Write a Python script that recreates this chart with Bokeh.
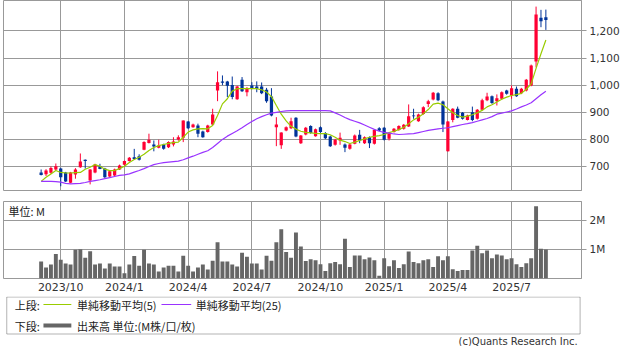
from bokeh.plotting import figure
from bokeh.layouts import column
from bokeh.models import (Range1d, FixedTicker, Grid, Label, ColumnDataSource,
                          NumeralTickFormatter, BoxAnnotation)
from bokeh.core.properties import field
from bokeh.embed import file_html
from bokeh.resources import INLINE

# ---- data (weekly, 2023/9 first week .. 2025/8 last week) ----
opens = [678, 671, 677, 689, 693, 678, 640, 670, 697, 725,
         648, 678, 701, 693, 663, 667, 689, 706, 720, 734,
         738, 762, 787, 781, 769, 781, 771, 781, 800, 806,
         866, 845, 851, 829, 827, 855, 980, 1014, 1014, 1001,
         948, 1020, 974, 999, 995, 995, 983, 958, 845, 778,
         833, 841, 880, 786, 818, 849, 812, 845, 824, 811,
         780, 796, 781, 765, 784, 817, 786, 808, 784, 841,
         843, 802, 827, 835, 839, 848, 888, 867, 894, 931,
         947, 970, 940, 756, 872, 913, 898, 872, 900, 876,
         909, 944, 959, 941, 950, 980, 962, 987, 970, 980,
         999, 1087, 1249, 1251]
closes = [669, 685, 694, 701, 660, 645, 678, 689, 718, 720,
          689, 707, 691, 660, 682, 689, 704, 720, 732, 728,
          725, 790, 799, 774, 777, 765, 790, 792, 808, 870,
          841, 855, 821, 808, 851, 892, 1011, 1009, 998, 956,
          995, 978, 990, 990, 987, 970, 941, 888, 855, 825,
          845, 867, 811, 814, 843, 824, 837, 827, 804, 775,
          799, 806, 769, 781, 814, 796, 808, 786, 835, 833,
          799, 823, 839, 849, 854, 885, 885, 892, 919, 941,
          972, 944, 855, 866, 913, 880, 876, 888, 872, 909,
          944, 958, 934, 952, 974, 968, 989, 959, 987, 1020,
          1073, 1261, 1236, 1241]
highs = [689, 690, 700, 711, 695, 680, 680, 694, 748, 726,
         690, 710, 710, 695, 685, 692, 707, 722, 735, 765,
         745, 793, 821, 796, 799, 784, 793, 808, 815, 870,
         868, 858, 858, 832, 854, 913, 1051, 1036, 1016, 1032,
         998, 1030, 993, 1011, 1014, 1010, 990, 989, 882, 826,
         848, 880, 882, 816, 846, 852, 840, 848, 827, 814,
         802, 825, 785, 784, 818, 835, 811, 811, 838, 845,
         846, 826, 842, 852, 857, 929, 913, 895, 922, 946,
         975, 974, 943, 868, 915, 921, 901, 891, 921, 912,
         950, 972, 962, 966, 977, 983, 999, 995, 990, 1023,
         1076, 1290, 1278, 1279]
lows = [667, 665, 673, 686, 627, 643, 638, 655, 695, 692,
        634, 675, 690, 658, 660, 665, 687, 703, 718, 725,
        722, 760, 785, 756, 767, 762, 768, 774, 795, 790,
        838, 843, 808, 806, 825, 852, 941, 1000, 956, 948,
        946, 975, 959, 985, 974, 967, 935, 885, 775, 765,
        830, 838, 808, 783, 815, 821, 810, 824, 801, 772,
        777, 780, 753, 762, 782, 786, 783, 768, 781, 830,
        796, 796, 825, 832, 836, 846, 876, 865, 891, 919,
        944, 941, 827, 755, 863, 878, 873, 870, 867, 873,
        907, 941, 931, 925, 947, 965, 950, 957, 967, 977,
        996, 1066, 1214, 1204]
volume_m = [0.58, 0.38, 0.48, 0.84, 0.64, 0.51, 0.48, 0.98, 1.00, 0.71,
            0.93, 0.48, 0.51, 0.34, 0.51, 0.41, 0.41, 0.18, 0.48, 0.77,
            0.44, 0.98, 0.51, 0.48, 0.24, 0.38, 0.44, 0.44, 0.24, 0.78,
            0.44, 0.24, 0.38, 0.48, 0.31, 0.61, 1.24, 0.58, 0.58, 0.48,
            0.41, 0.88, 0.74, 0.51, 0.51, 0.31, 0.78, 0.61, 1.24, 1.68,
            0.91, 0.71, 1.57, 1.09, 0.60, 0.66, 0.62, 0.49, 0.26, 0.52,
            0.56, 0.49, 1.36, 0.39, 0.79, 0.79, 0.66, 0.72, 0.62, 0.09,
            0.69, 0.42, 0.62, 0.36, 0.49, 0.92, 0.56, 0.52, 0.62, 0.66,
            0.39, 0.76, 0.62, 0.76, 0.32, 0.26, 0.29, 0.29, 0.96, 1.12,
            0.86, 0.96, 0.69, 0.82, 0.79, 0.66, 0.69, 0.49, 0.39, 0.52,
            0.69, 2.47, 1.02, 0.99]
ma5 = [645, 660, 672, 685, 678, 676, 676, 677, 678, 690,
       697, 707, 701, 690, 685, 685, 692, 701, 715, 726,
       734, 745, 759, 770, 777, 781, 785, 788, 790, 808,
       827, 835, 839, 840, 839, 851, 888, 931, 950, 978,
       987, 987, 987, 987, 987, 983, 975, 958, 925, 893,
       868, 848, 838, 830, 826, 824, 822, 821, 821, 817,
       808, 797, 792, 785, 790, 796, 802, 808, 811, 814,
       818, 825, 830, 836, 845, 858, 872, 882, 895, 910,
       930, 934, 928, 913, 898, 888, 882, 886, 891, 898,
       907, 920, 928, 938, 948, 956, 962, 965, 970, 985,
       1005, 1062, 1116, 1167]
ma25 = [645, 645, 645, 644, 642, 638, 636, 637, 638, 641,
        645, 648, 651, 655, 659, 663, 667, 669, 673, 679,
        685, 692, 700, 707, 711, 714, 716, 718, 720, 725,
        732, 738, 745, 752, 758, 770, 785, 800, 812, 822,
        832, 843, 855, 866, 876, 884, 891, 897, 900, 903,
        905, 906, 906, 906, 906, 906, 906, 906, 906, 905,
        898, 890, 881, 873, 867, 861, 853, 845, 837, 830,
        826, 823, 820, 818, 819, 820, 821, 825, 829, 833,
        836, 839, 841, 843, 847, 851, 855, 858, 862, 867,
        872, 877, 884, 893, 897, 901, 905, 912, 920, 927,
        935, 950, 965, 978]
tick_weeks = [4, 17, 30, 43, 57, 70, 83, 96]
tick_labels = ["2023/10", "2024/1", "2024/4", "2024/7", "2024/10", "2025/1", "2025/4", "2025/7"]
price_ticks = [700, 800, 900, 1000, 1100, 1200]
vol_ticks = [1, 2]
vol_tick_labels = ["1M", "2M"]

# ---- styling ----
UP = "#ff0033"
DOWN = "#003399"
MA5_C = "#99cc00"
MA25_C = "#9933ff"
VOL_C = "#666666"
GRID = "#999999"
TXT = "#333333"
JP = "Noto Sans CJK JP"
W = 622

week = list(range(len(closes)))
colors = [UP if c >= o else DOWN for o, c in zip(opens, closes)]
src = ColumnDataSource(dict(
    x=week, h=highs, l=lows,
    top=[max(o, c) for o, c in zip(opens, closes)],
    bot=[min(o, c) for o, c in zip(opens, closes)],
    color=colors))

xr = Range1d(-7.68, 110.27)

# ---- price panel ----
p1 = figure(width=W, height=195, x_range=xr, y_range=Range1d(611.4, 1312.5),
            x_axis_type=None, y_axis_location="right", title=None,
            output_backend="svg", toolbar_location=None,
            min_border_left=3, min_border_right=40, min_border_top=0, min_border_bottom=5)
p1.outline_line_color = GRID
p1.outline_line_alpha = 1
p1.ygrid.ticker = FixedTicker(ticks=price_ticks)
p1.ygrid.grid_line_color = GRID
p1.add_layout(Grid(dimension=0, ticker=FixedTicker(ticks=tick_weeks), grid_line_color=GRID))

p1.segment(x0="x", y0="l", x1="x", y1="h", line_color=field("color"), line_width=1, source=src)
p1.vbar(x="x", width=0.66, top="top", bottom="bot", fill_color=field("color"),
        line_color=None, source=src)
p1.line(week, ma5, line_color=MA5_C, line_width=1.2)
p1.line(week, ma25, line_color=MA25_C, line_width=1.2)

ya = p1.yaxis[0]
ya.ticker = FixedTicker(ticks=price_ticks)
ya.formatter = NumeralTickFormatter(format="0,0")
ya.major_tick_out = 5
ya.major_tick_in = 0
ya.minor_tick_out = 0
ya.minor_tick_in = 0
ya.axis_line_color = GRID
ya.major_tick_line_color = GRID
ya.major_label_standoff = 3
ya.major_label_text_font = "DejaVu Sans"
ya.major_label_text_font_size = "10.5px"
ya.major_label_text_color = TXT

# ---- volume panel ----
p2 = figure(width=W, height=101, x_range=xr, y_range=Range1d(0, 2.633),
            y_axis_location="right", title=None,
            output_backend="svg", toolbar_location=None,
            min_border_left=3, min_border_right=40, min_border_top=6, min_border_bottom=16)
p2.outline_line_color = GRID
p2.outline_line_alpha = 1
p2.vbar(x=week, top=volume_m, width=0.8, fill_color=VOL_C, line_color=None)

xa = p2.xaxis[0]
xa.ticker = FixedTicker(ticks=tick_weeks)
xa.major_label_overrides = {t: s for t, s in zip(tick_weeks, tick_labels)}
xa.major_tick_out = 0
xa.major_tick_in = 0
xa.minor_tick_out = 0
xa.minor_tick_in = 0
xa.axis_line_color = None
xa.major_label_standoff = 2
xa.major_label_text_font = "DejaVu Sans"
xa.major_label_text_font_size = "11px"
xa.major_label_text_color = TXT

va = p2.yaxis[0]
va.ticker = FixedTicker(ticks=vol_ticks)
va.major_label_overrides = {t: s for t, s in zip(vol_ticks, vol_tick_labels)}
va.major_tick_out = 5
va.major_tick_in = 0
va.minor_tick_out = 0
va.minor_tick_in = 0
va.axis_line_color = GRID
va.major_tick_line_color = GRID
va.major_label_standoff = 3
va.major_label_text_font = "DejaVu Sans"
va.major_label_text_font_size = "10.5px"
va.major_label_text_color = TXT
p2.xgrid.grid_line_color = GRID
p2.ygrid.grid_line_color = GRID

p2.add_layout(Label(x=xr.start, y=2.633, x_offset=5, y_offset=-9, text="単位: M",
                    text_baseline="middle", text_font=JP, text_font_size="11px",
                    text_color="#222222"))

# ---- legend panel (pixel-like ranges) ----
LH = 50
p3 = figure(width=W, height=LH, x_range=Range1d(0, W), y_range=Range1d(0, LH),
            x_axis_type=None, y_axis_type=None, title=None,
            output_backend="svg", toolbar_location=None,
            min_border_left=0, min_border_right=0, min_border_top=0, min_border_bottom=0)
p3.outline_line_color = None
p3.add_layout(BoxAnnotation(left=3.5, right=620.5, top=LH - 0.5, bottom=12.5,
                            fill_alpha=0, line_color="#000000", line_width=1))

row1, row2 = 42, 21
p3.line([43, 73], [row1, row1], line_color=MA5_C, line_width=1)
p3.line([170, 202], [row1, row1], line_color=MA25_C, line_width=1)
p3.line([43, 73], [row2, row2], line_color=VOL_C, line_width=4)
for x, y, t in [(12, row1, "上段:"), (79, row1, "単純移動平均(5)"), (207, row1, "単純移動平均(25)"),
                (12, row2, "下段:"), (79, row2, "出来高 単位:(M株/口/枚)")]:
    p3.add_layout(Label(x=x, y=y, text=t, text_baseline="middle", text_font=JP,
                        text_font_size="11px", text_color="#222222"))
p3.add_layout(Label(x=618, y=5, text="(c)Quants Research Inc.", text_align="right",
                    text_baseline="middle", text_font="DejaVu Sans", text_font_size="10px",
                    text_color=TXT))

layout = column(p1, p2, p3, spacing=0)
open("out.html", "w").write(file_html(layout, INLINE))
